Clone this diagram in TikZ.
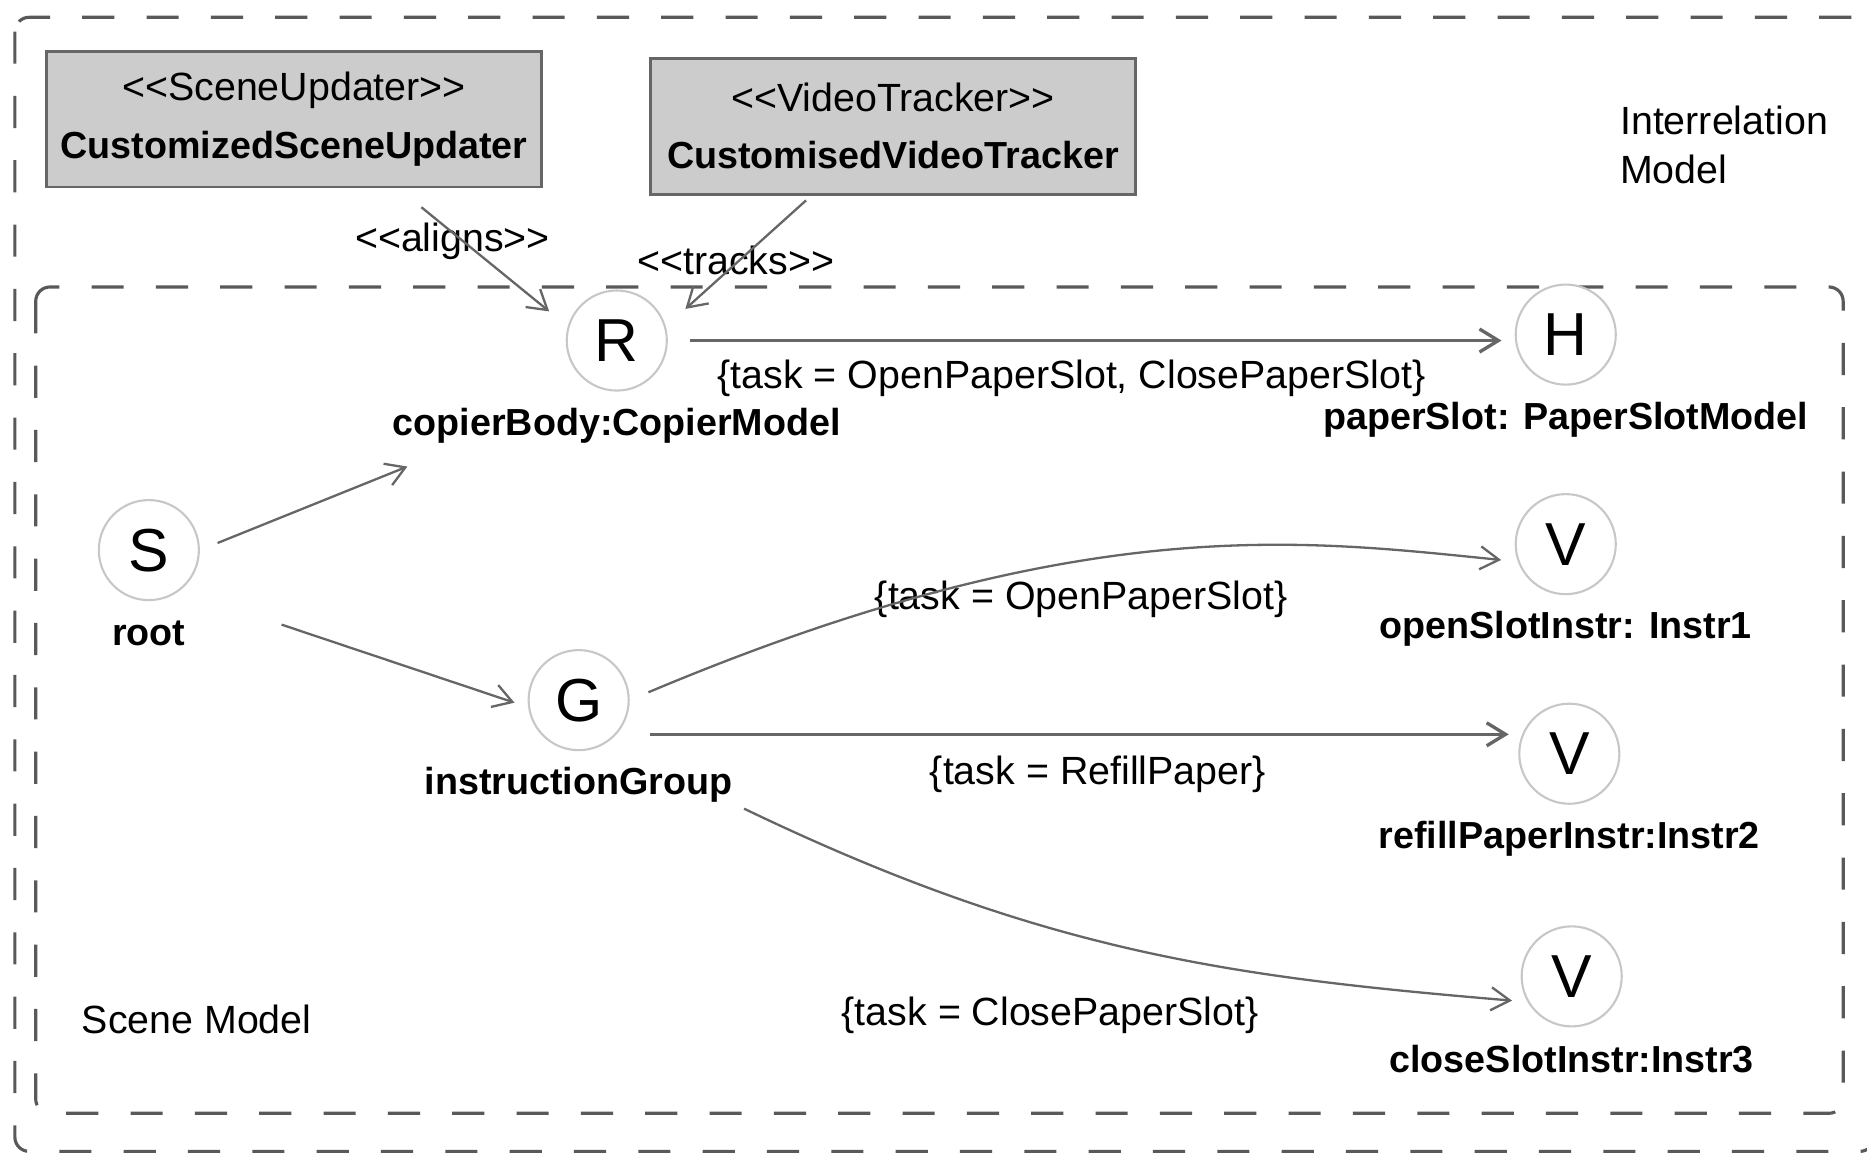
\documentclass[tikz,border=0pt]{standalone}
\usepackage{fontspec}
\setmainfont{Liberation Sans}[Ligatures=TeXOff]
\usetikzlibrary{arrows.meta,positioning}

\begin{document}
\begin{tikzpicture}[x=0.01cm,y=-0.01cm,node distance=0.13cm,
    >={Straight Barb[length=4.5pt,width=5.5pt]},
    state/.style={circle,draw=black!22,line width=0.5pt,fill=white,minimum size=0.84cm,inner sep=0pt,font=\fontsize{14.5}{15}\selectfont},
    objname/.style={inner sep=0pt,font=\bfseries\fontsize{9}{11}\selectfont},
    tasklabel/.style={inner sep=0pt,font=\fontsize{9.4}{11.7}\selectfont},
    stereo/.style={draw=black!60,fill=black!20,line width=0.7pt,minimum width=4.13cm,minimum height=1.14cm,align=center,font=\fontsize{9.4}{13.7}\selectfont},
    link/.style={->,draw=black!60,line width=0.55pt},
    boundary/.style={draw=black!65,line width=0.75pt,dash pattern=on 0.27cm off 0.27cm,rounded corners=0.12cm}]
\useasboundingbox (0,0) rectangle (1568,969);

\draw[boundary] (12.5,14.5) rectangle (1574,967);
\draw[boundary] (30,241) rectangle (1548,935);

\node[stereo] (sceneUpdater) at (247,100) {<<SceneUpdater>>\\{\bfseries\fontsize{9}{11}\selectfont CustomizedSceneUpdater}};
\node[stereo,minimum width=4.07cm] (videoTracker) at (750,106) {<<VideoTracker>>\\{\bfseries\fontsize{9}{11}\selectfont CustomisedVideoTracker}};
\node[tasklabel,anchor=west,align=left] (interrelation) at (1360,122) {Interrelation\\Model};
\node[tasklabel,anchor=west] (sceneModel) at (68,856) {Scene Model};

\node[state] (R) at (518,286) {R};
\node[state] (H) at (1315,281) {H};
\node[state] (S) at (125,462) {S};
\node[state] (G) at (486,588) {G};
\node[state] (V1) at (1315,457) {V};
\node[state] (V2) at (1318,633) {V};
\node[state] (V3) at (1320,820) {V};

\node[objname,below=of R] (copierBody) {copierBody:CopierModel};
\node[objname,below=of H] (paperSlot) {paperSlot: PaperSlotModel};
\node[objname,below=0.155cm of S] (root) {root};
\node[objname,below=of G] (instructionGroup) {instructionGroup};
\node[objname,below=of V1] (openSlotInstr) {openSlotInstr: Instr1};
\node[objname,below=of V2] (refillPaperInstr) {refillPaperInstr:Instr2};
\node[objname,below=0.145cm of V3] (closeSlotInstr) {closeSlotInstr:Instr3};

\node[tasklabel] (alignsTag) at (380,203) {<<aligns>>};
\node[tasklabel] (tracksTag) at (618,219) {<<tracks>>};
\node[tasklabel] (slotTasks) at (900,318) {\{task = OpenPaperSlot, ClosePaperSlot\}};
\node[tasklabel] (openTask) at (908,503) {\{task = OpenPaperSlot\}};
\node[tasklabel] (refillTask) at (922,650) {\{task = RefillPaper\}};
\node[tasklabel] (closeTask) at (882,853) {\{task = ClosePaperSlot\}};

\draw[link,shorten <=0.25cm,shorten >=0.2cm] ([xshift=0.875cm]sceneUpdater.south) -- (R.164);
\draw[link,shorten <=0.06cm,shorten >=0.22cm] ([xshift=-0.685cm]videoTracker.south) -- (R.16);

\draw[link,shorten <=0.16cm] (S.east) -- ([xshift=0.13cm,yshift=-0.19cm]copierBody.south west);
\draw[link,shorten >=0.12cm] ([xshift=0.8cm,yshift=0.07cm]root.east) -- (G.188);

\draw[link,line width=0.8pt,shorten <=0.19cm,shorten >=0.11cm] (R) -- (R -| H.west);
\draw[link,shorten <=0.17cm,shorten >=0.14cm] (G.east) .. controls +(380,-160) and +(-180,-18) .. (V1.200);
\draw[link,line width=0.8pt,shorten <=0.28cm,shorten >=0.08cm] (G.-42) -- (G.-42 -| V2.west);
\draw[link,shorten <=0.1cm,shorten >=0.13cm] (instructionGroup.south east) .. controls +(260,125) and +(-250,-21) .. (V3.210);
\end{tikzpicture}
\end{document}
